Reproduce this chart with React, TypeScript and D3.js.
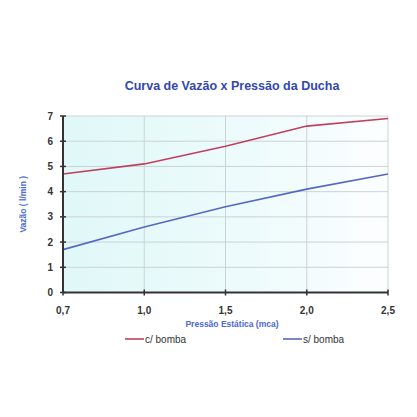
import React from "react";
import * as d3 from "d3";

const pressures = ["0,7", "1,0", "1,5", "2,0", "2,5"];
const comBomba = [4.7, 5.1, 5.8, 6.6, 6.9];
const semBomba = [1.7, 2.6, 3.4, 4.1, 4.7];
const yTicks = [0, 1, 2, 3, 4, 5, 6, 7];

const series = [
  { name: "c/ bomba", values: comBomba, color: "#c0405c" },
  { name: "s/ bomba", values: semBomba, color: "#5468c4" },
];

export default function App() {
  const width = 417;
  const height = 417;
  const left = 63;
  const right = 388;
  const top = 116;
  const bottom = 292.5;

  const x = d3.scalePoint<string>().domain(pressures).range([left, right]);
  const y = d3.scaleLinear().domain([0, 7]).range([bottom, top]);

  const line = d3
    .line<number>()
    .x((_, i) => x(pressures[i]) ?? 0)
    .y((d) => y(d));

  const font = "Arial, 'Liberation Sans', sans-serif";

  return (
    <svg
      width={width}
      height={height}
      style={{ position: "absolute", left: 0, top: 0, background: "#fff" }}
    >
      <defs>
        <linearGradient id="bg" x1="0" x2="1" y1="0" y2="0">
          <stop offset="0" stopColor="#e0f8f8" />
          <stop offset="0.6" stopColor="#eefbfc" />
          <stop offset="1" stopColor="#fcfeff" />
        </linearGradient>
      </defs>
      <text
        x={232}
        y={90}
        textAnchor="middle"
        fontFamily={font}
        fontWeight="bold"
        fontSize={12.5}
        fill="#3347b0"
      >
        Curva de Vazão x Pressão da Ducha
      </text>

      <rect x={left} y={top} width={right - left} height={bottom - top} fill="url(#bg)" />

      {yTicks.map((t) => (
        <line key={"gy" + t} x1={left} x2={right} y1={y(t)} y2={y(t)} stroke="#cbd3d3" strokeWidth={1} />
      ))}
      {pressures.map((p) => (
        <line key={"gx" + p} x1={x(p)} x2={x(p)} y1={top} y2={bottom} stroke="#cbd3d3" strokeWidth={1} />
      ))}

      {series.map((s) => (
        <path key={s.name} d={line(s.values) ?? ""} fill="none" stroke={s.color} strokeWidth={1.6} />
      ))}

      <line x1={left} x2={left} y1={top} y2={bottom} stroke="#333" strokeWidth={2} />
      <line x1={left} x2={right} y1={bottom} y2={bottom} stroke="#333" strokeWidth={2} />

      {yTicks.map((t) => (
        <g key={"ty" + t}>
          <line x1={left - 3} x2={left + 3} y1={y(t)} y2={y(t)} stroke="#333" strokeWidth={1.5} />
          <text
            x={left - 10}
            y={y(t) + 3.5}
            textAnchor="end"
            fontFamily={font}
            fontWeight="bold"
            fontSize={10}
            fill="#333"
          >
            {t}
          </text>
        </g>
      ))}
      {pressures.map((p) => (
        <g key={"tx" + p}>
          <line x1={x(p)} x2={x(p)} y1={bottom - 3} y2={bottom + 3} stroke="#333" strokeWidth={1.5} />
          <text
            x={x(p)}
            y={bottom + 21}
            textAnchor="middle"
            fontFamily={font}
            fontWeight="bold"
            fontSize={10}
            fill="#333"
          >
            {p}
          </text>
        </g>
      ))}

      <text
        x={232}
        y={327}
        textAnchor="middle"
        fontFamily={font}
        fontWeight="bold"
        fontSize={8.5}
        fill="#4a68d8"
      >
        Pressão Estática (mca)
      </text>
      <text
        transform={`translate(26,${(top + bottom) / 2}) rotate(-90)`}
        textAnchor="middle"
        fontFamily={font}
        fontWeight="bold"
        fontSize={8.5}
        fill="#4a68d8"
      >
        Vazão ( l/min )
      </text>

      {series.map((s, i) => {
        const lx = i === 0 ? 125 : 283;
        return (
          <g key={"lg" + s.name}>
            <line x1={lx} x2={lx + 19} y1={339} y2={339} stroke={s.color} strokeWidth={1.6} />
            <text x={lx + 20} y={342.5} fontFamily={font} fontSize={10} fill="#333">
              {s.name}
            </text>
          </g>
        );
      })}
    </svg>
  );
}
